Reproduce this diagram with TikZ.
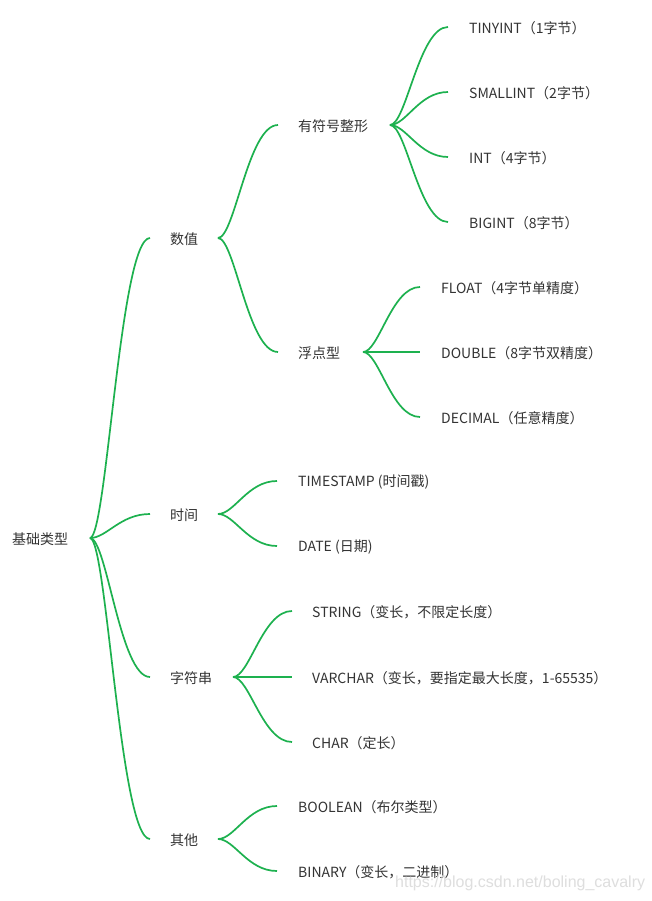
\documentclass[tikz,border=0pt]{standalone}
\usepackage{fontspec}
\setmainfont{Noto Sans CJK SC}
\newfontfamily\wmfont{Liberation Sans}
\usetikzlibrary{calc}
\definecolor{linegreen}{HTML}{1DB14F}
\definecolor{txt}{HTML}{333333}
\tikzset{
  lbl/.style={anchor=west,inner sep=0pt,text=txt,yshift=-1.5pt,font=\fontsize{14}{16}\selectfont},
  branch/.style={draw=linegreen,line width=1.7pt,
    to path={.. controls ($(\tikztostart)!0.28!(\tikztostart-|\tikztotarget)$) and ($(\tikztotarget)!0.5!(\tikztostart|-\tikztotarget)$) .. (\tikztotarget)}},
}
\begin{document}
\begin{tikzpicture}[x=1pt,y=-1pt]
\useasboundingbox[fill=white] (0,0) rectangle (652,901);
% root
\node[lbl] (root) at (12,538) {基础类型};
\coordinate (root-o) at (90,538);
% level 1
\node[lbl] (sz) at (170,238) {数值};
\node[lbl] (sj) at (170,514) {时间};
\node[lbl] (zfc) at (170,677) {字符串};
\node[lbl] (qt) at (170,839) {其他};
\foreach \n/\y in {sz/238,sj/514,zfc/677,qt/839}{\coordinate (\n-i) at (150,\y);}
\coordinate (sz-o) at (218,238);
\coordinate (sj-o) at (218,514);
\coordinate (zfc-o) at (233,677);
\coordinate (qt-o) at (218,839);
% level 2 under 数值
\node[lbl] (yfh) at (298,125) {有符号整形};
\node[lbl] (fdx) at (298,352) {浮点型};
\coordinate (yfh-i) at (278,125);
\coordinate (fdx-i) at (278,352);
\coordinate (yfh-o) at (390,125);
\coordinate (fdx-o) at (363,352);
% integers
\node[lbl] (tiny) at (469,27) {TINYINT（1字节）};
\node[lbl] (small) at (469,92) {SMALLINT（2字节）};
\node[lbl] (int) at (469,157) {INT（4字节）};
\node[lbl] (big) at (469,222) {BIGINT（8字节）};
\foreach \n/\y in {tiny/27,small/92,int/157,big/222}{\coordinate (\n-i) at (448,\y);}
% floats
\node[lbl] (flt) at (441,287) {FLOAT（4字节单精度）};
\node[lbl] (dbl) at (441,352) {DOUBLE（8字节双精度）};
\node[lbl] (dec) at (441,417) {DECIMAL（任意精度）};
\foreach \n/\y in {flt/287,dbl/352,dec/417}{\coordinate (\n-i) at (420,\y);}
% time
\node[lbl] (ts) at (298,481) {TIMESTAMP (时间戳)};
\node[lbl] (date) at (298,546) {DATE (日期)};
\foreach \n/\y in {ts/481,date/546}{\coordinate (\n-i) at (277,\y);}
% string
\node[lbl] (str) at (312,611) {STRING（变长，不限定长度）};
\node[lbl] (vch) at (312,677) {VARCHAR（变长，要指定最大长度，1-65535）};
\node[lbl] (chr) at (312,742) {CHAR（定长）};
\foreach \n/\y in {str/611,vch/677,chr/742}{\coordinate (\n-i) at (292,\y);}
% other
\node[lbl] (bool) at (298,806) {BOOLEAN（布尔类型）};
\node[lbl] (bin) at (298,871) {BINARY（变长，二进制）};
\foreach \n/\y in {bool/806,bin/871}{\coordinate (\n-i) at (277,\y);}
% connectors
\foreach \a/\b in {root-o/sz-i,root-o/sj-i,root-o/zfc-i,root-o/qt-i,
  sz-o/yfh-i,sz-o/fdx-i,
  yfh-o/tiny-i,yfh-o/small-i,yfh-o/int-i,yfh-o/big-i,
  fdx-o/flt-i,fdx-o/dbl-i,fdx-o/dec-i,
  sj-o/ts-i,sj-o/date-i,
  zfc-o/str-i,zfc-o/vch-i,zfc-o/chr-i,
  qt-o/bool-i,qt-o/bin-i}{\draw[branch] (\a) to (\b);}
% watermark
\node[anchor=west,inner sep=0pt,text=black!13,font=\wmfont\fontsize{16}{18}\selectfont] (wm) at (395,883) {https://blog.csdn.net/boling\_cavalry};
\end{tikzpicture}
\end{document}
